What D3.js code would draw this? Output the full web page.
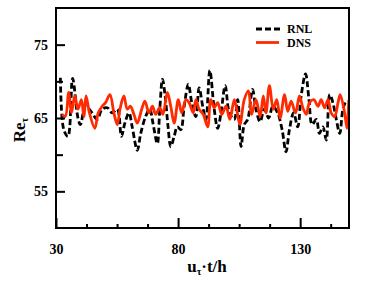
<!DOCTYPE html>
<html>
<head>
<meta charset="utf-8">
<script src="https://cdn.jsdelivr.net/npm/d3@7"></script>
<style>
  body { margin: 0; background: #fff; }
  svg text { font-family: "Liberation Serif", "Times New Roman", serif; font-weight: bold; }
</style>
</head>
<body>
<div id="chart"></div>
<script>
// RNL (black dashed) - time and Re_tau
const rnlT = [31.8, 33.2, 34.9, 36.8, 39.0, 40.0, 42.1, 44.8, 46.8, 48.9, 51.0, 53.0, 55.1, 56.8, 58.2, 59.9,
  61.2, 63.3, 64.7, 66.7, 68.4, 69.7, 71.5, 72.5, 73.6, 74.7, 75.9, 77.0, 78.4, 79.7, 81.1, 82.5, 84.2, 85.6,
  87.3, 88.6, 90.3, 91.4, 93.0, 94.8, 96.2, 97.5, 99.3, 101.0, 103.0, 104.4, 105.8, 107.1, 108.5, 110.5,
  111.9, 113.6, 115.3, 117.1, 118.8, 120.8, 122.6, 124.2, 125.6, 127.3, 129.0, 130.4, 132.2, 133.6, 134.9,
  136.6, 137.9, 139.3, 140.7, 142.1, 143.4, 144.8, 146.2, 147.5, 148.9];
const rnlRe = [70.5, 63.4, 62.5, 70.4, 65.0, 64.1, 66.6, 65.7, 64.8, 66.2, 66.4, 65.7, 66.2, 62.5, 64.3, 65.7,
  63.8, 60.6, 62.9, 65.2, 66.2, 64.3, 61.5, 66.2, 70.3, 68.0, 63.8, 61.1, 62.5, 63.8, 63.4, 66.6, 69.6, 67.1,
  65.2, 69.1, 66.2, 64.8, 71.5, 66.2, 63.6, 65.5, 69.4, 65.7, 64.8, 67.5, 61.1, 64.1, 64.8, 68.9,
  66.2, 64.5, 66.2, 65.0, 66.6, 65.7, 63.4, 60.4, 63.4, 65.7, 63.8, 68.0, 71.0, 67.5, 64.1,
  64.8, 62.9, 63.8, 62.0, 68.2, 67.1, 64.8, 62.9, 66.2, 67.5];

// DNS (red solid)
const dnsT = [32.5, 33.8, 35.2, 36.3, 37.7, 39.0, 40.4, 41.4, 42.3, 43.7, 45.9, 47.3, 48.9, 50.3, 52.1, 53.7,
  55.1, 56.2, 57.8, 59.2, 60.5, 61.9, 63.3, 65.1, 66.4, 68.1, 69.5, 70.8, 72.5, 73.8, 75.6, 77.0, 78.4, 80.1,
  81.5, 83.2, 84.5, 86.2, 87.3, 88.6, 90.3, 92.1, 93.4, 94.8, 96.2, 97.9, 99.6, 101.2, 103.0, 104.0, 105.3,
  107.1, 108.8, 110.1, 111.9, 113.6, 114.9, 116.0, 117.4, 119.0, 120.4, 121.8, 123.6, 124.9, 126.3, 128.1,
  129.7, 131.1, 132.5, 133.8, 135.6, 137.3, 138.6, 140.0, 141.4, 142.7, 144.1, 145.5, 146.4, 148.2, 149.2, 149.9];
const dnsRe = [65.5, 65.2, 68.5, 65.7, 68.0, 66.2, 67.5, 65.2, 68.0, 65.7, 63.6, 65.7, 66.6, 67.1, 68.2, 65.7,
  64.1, 66.2, 68.0, 66.2, 66.6, 65.5, 64.3, 66.2, 67.3, 65.7, 66.6, 65.5, 66.4, 65.5, 68.5, 66.6, 64.3, 67.5,
  65.7, 67.5, 67.1, 65.7, 67.5, 66.2, 65.5, 63.8, 67.5, 66.4, 67.1, 65.5, 66.6, 64.8, 67.5, 66.2, 64.1,
  67.5, 68.7, 65.5, 67.5, 65.2, 68.0, 65.7, 69.4, 66.2, 67.5, 65.0, 68.2, 65.9, 67.3, 65.7,
  68.0, 66.4, 65.5, 67.1, 67.5, 66.6, 67.5, 66.4, 67.5, 65.7, 65.2, 67.1, 68.2, 65.7, 63.6, 67.5];

const xTicks = [30, 80, 130];
const xMinor = [42.5, 55, 67.5, 92.5, 105, 117.5, 142.5];
const yTicks = [55, 65, 75];
const yMinor = [60, 70];

const W = 374, H = 284;
const margin = { left: 56, right: 25, top: 8, bottom: 56 };

const svg = d3.select("#chart").append("svg")
  .attr("width", W)
  .attr("height", H);

const x = d3.scaleLinear().domain([30, 150]).range([margin.left, W - margin.right]);
const y = d3.scaleLinear().domain([50, 80]).range([H - margin.bottom, margin.top]);

svg.append("clipPath").attr("id", "clip")
  .append("rect")
  .attr("x", margin.left).attr("y", margin.top)
  .attr("width", x(150) - x(30)).attr("height", y(50) - y(80));

const line = d3.line()
  .x(d => x(d[0]))
  .y(d => y(d[1]))
  .curve(d3.curveCatmullRom);

const plot = svg.append("g").attr("clip-path", "url(#clip)");

plot.append("path")
  .datum(rnlT.map((t, i) => [t, rnlRe[i]]))
  .attr("fill", "none")
  .attr("stroke", "#000")
  .attr("stroke-width", 2.8)
  .attr("stroke-dasharray", "6,3")
  .attr("d", line);

plot.append("path")
  .datum(dnsT.map((t, i) => [t, dnsRe[i]]))
  .attr("fill", "none")
  .attr("stroke", "#ff2a00")
  .attr("stroke-width", 2.8)
  .attr("d", line);

//------------------------------------------------------------- axes (ticks inside)
const xAxis = d3.axisBottom(x).tickValues(xTicks).tickSizeInner(-10).tickSizeOuter(0).tickPadding(16);
const xAxisMinor = d3.axisBottom(x).tickValues(xMinor).tickSizeInner(-4).tickSizeOuter(0).tickFormat("");
const yAxis = d3.axisLeft(y).tickValues(yTicks).tickSizeInner(-9).tickSizeOuter(0).tickPadding(8);
const yAxisMinor = d3.axisLeft(y).tickValues(yMinor).tickSizeInner(-7).tickSizeOuter(0).tickFormat("");

[
  [xAxis, "translate(0," + y(50) + ")"],
  [xAxisMinor, "translate(0," + y(50) + ")"],
  [yAxis, "translate(" + x(30) + ",0)"],
  [yAxisMinor, "translate(" + x(30) + ",0)"]
].forEach(([ax, tr]) => {
  const g = svg.append("g").attr("transform", tr).call(ax);
  g.select(".domain").remove();
  g.selectAll("line").attr("stroke", "#000").attr("stroke-width", 2);
  g.selectAll("text").attr("font-size", 14).attr("fill", "#000")
    .style("font-family", "'Liberation Serif', serif").style("font-weight", "bold");
});

// frame
svg.append("rect")
  .attr("x", x(30)).attr("y", y(80))
  .attr("width", x(150) - x(30)).attr("height", y(50) - y(80))
  .attr("fill", "none").attr("stroke", "#000").attr("stroke-width", 2);

//------------------------------------------------------------- legend
const lg = svg.append("g");
lg.append("line").attr("x1", 256).attr("x2", 280).attr("y1", 29).attr("y2", 29)
  .attr("stroke", "#000").attr("stroke-width", 2.8).attr("stroke-dasharray", "6,3");
lg.append("text").attr("x", 287).attr("y", 33).attr("font-size", 12).text("RNL");
lg.append("line").attr("x1", 256).attr("x2", 279).attr("y1", 42.5).attr("y2", 42.5)
  .attr("stroke", "#ff2a00").attr("stroke-width", 2.8);
lg.append("text").attr("x", 287).attr("y", 47).attr("font-size", 12).text("DNS");

//------------------------------------------------------------- titles
const xt = svg.append("text")
  .attr("x", 207).attr("y", 272)
  .attr("text-anchor", "middle")
  .attr("font-size", 17);
xt.append("tspan").text("u");
xt.append("tspan").attr("font-size", 10).attr("dy", 3).text("τ");
xt.append("tspan").attr("dy", -3).text("·t/h");

const yt = svg.append("text")
  .attr("transform", "translate(25,130) rotate(-90)")
  .attr("text-anchor", "middle")
  .attr("font-size", 17);
yt.append("tspan").text("Re");
yt.append("tspan").attr("font-size", 10).attr("dy", 3).text("τ");
</script>
</body>
</html>
